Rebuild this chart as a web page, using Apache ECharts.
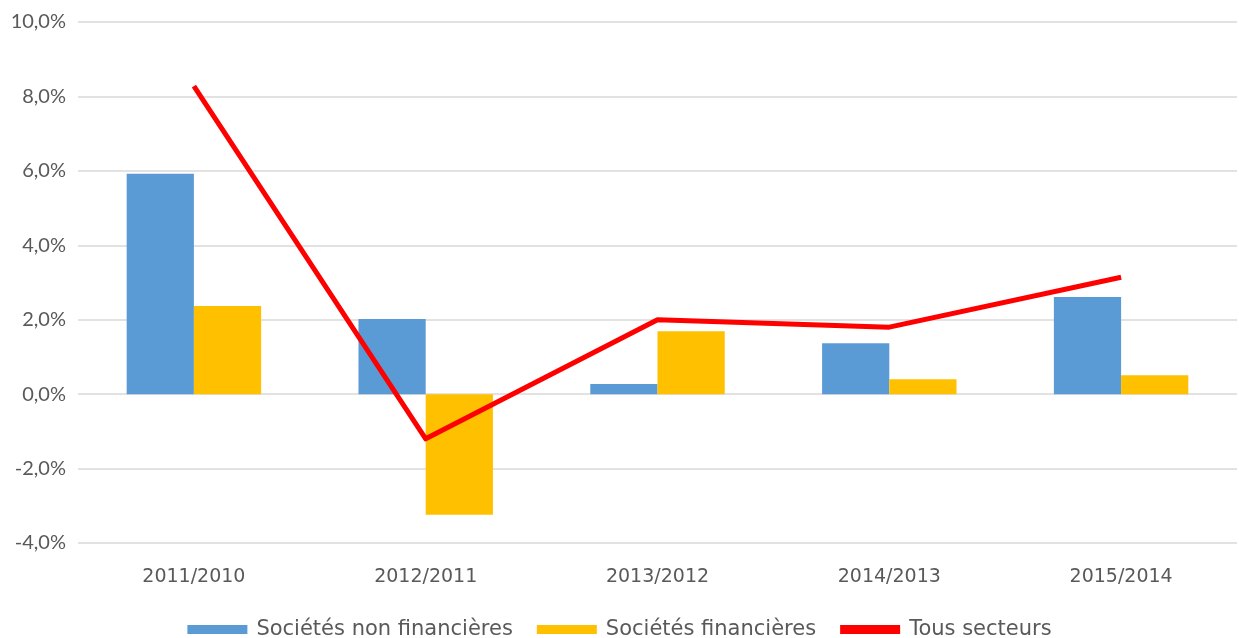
<!DOCTYPE html>
<html>
<head>
<meta charset="utf-8">
<script src="https://cdn.jsdelivr.net/npm/echarts@6/dist/echarts.min.js"></script>
<style>
    html, body { margin: 0; padding: 0; background: #fff; }
    #chart { width: 1239px; height: 638px; }
</style>
</head>
<body>
<div id="chart"></div>
<script>
    // periodes
    const categories = ['2011/2010', '2012/2011', '2013/2012', '2014/2013', '2015/2014'];
    // variations en %
    const nonFinancieres = [5.92, 2.02, 0.27, 1.37, 2.61];
    const financieres = [2.37, -3.24, 1.69, 0.40, 0.51];
    const tousSecteurs = [8.28, -1.2, 2.0, 1.8, 3.14];
    const seriesNames = ['Sociétés non financières', 'Sociétés financières', 'Tous secteurs'];
    const yTicks = { min: -4, max: 10, interval: 2 };

    const chart = echarts.init(document.getElementById('chart'));
    const grey = '#595959';

    function fmt(v) {
        return v.toFixed(1).replace('.', ',') + '%';
    }

    chart.setOption({
        animation: false,
        grid: { left: 78, right: 2, top: 22, bottom: 95 },
        legend: {
            top: 614,
            left: 'center',
            itemWidth: 60,
            itemHeight: 9,
            itemGap: 24,
            textStyle: { fontFamily: 'DejaVu Sans', fontSize: 21, color: grey, padding: [0, 0, 0, 4] },
            data: [
                { name: seriesNames[0], icon: 'rect' },
                { name: seriesNames[1], icon: 'rect' },
                { name: seriesNames[2], icon: 'rect' }
            ]
        },
        xAxis: {
            type: 'category',
            data: categories,
            axisLine: { show: false },
            axisTick: { show: false },
            axisLabel: { margin: 25, fontFamily: 'DejaVu Sans', fontSize: 19, color: grey }
        },
        yAxis: {
            type: 'value',
            min: yTicks.min,
            max: yTicks.max,
            interval: yTicks.interval,
            axisLabel: { margin: 12, fontFamily: 'Lato', fontSize: 20, color: grey, formatter: fmt },
            splitLine: { lineStyle: { color: '#D9D9D9', width: 1.5 } }
        },
        series: [
            {
                name: seriesNames[0],
                type: 'bar',
                data: nonFinancieres,
                barGap: '0%',
                barCategoryGap: '42%',
                itemStyle: { color: '#5B9BD5' }
            },
            {
                name: seriesNames[1],
                type: 'bar',
                data: financieres,
                itemStyle: { color: '#FFC000' }
            },
            {
                name: seriesNames[2],
                type: 'line',
                data: tousSecteurs,
                symbol: 'none',
                lineStyle: { color: '#FF0000', width: 5, join: 'round' },
                itemStyle: { color: '#FF0000' }
            }
        ]
    });
</script>
</body>
</html>
